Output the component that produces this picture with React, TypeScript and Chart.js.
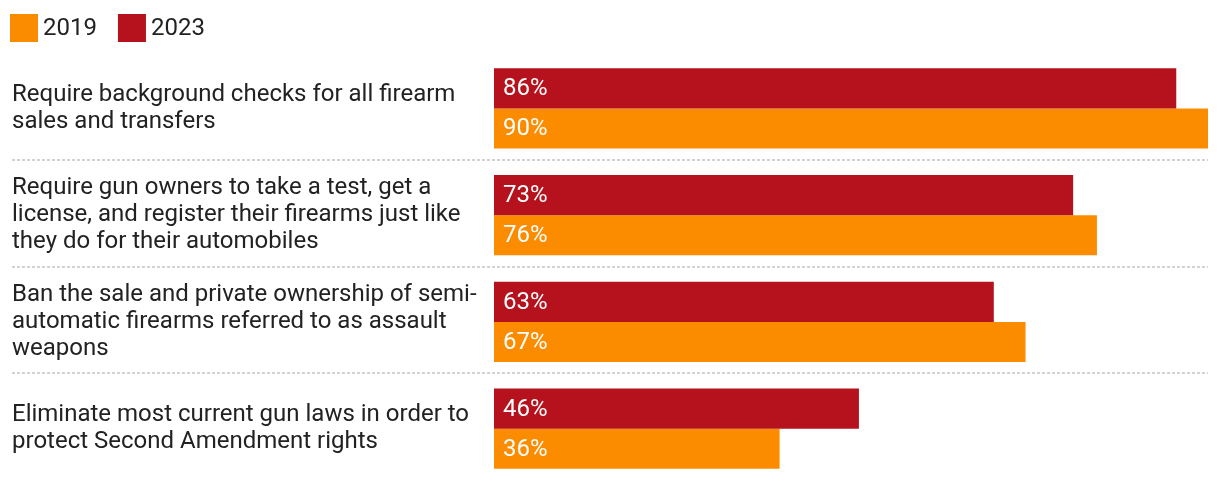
import React, { useEffect, useRef } from "react";
import { Chart, registerables } from "chart.js";

Chart.register(...registerables);

const categories: string[][] = [
  ["Require background checks for all firearm", "sales and transfers"],
  ["Require gun owners to take a test, get a", "license, and register their firearms just like", "they do for their automobiles"],
  ["Ban the sale and private ownership of semi-", "automatic firearms referred to as assault", "weapons"],
  ["Eliminate most current gun laws in order to", "protect Second Amendment rights"],
];
const values2023: number[] = [86, 73, 63, 46];
const values2019: number[] = [90, 76, 67, 36];
const seriesNames: string[] = ["2019", "2023"];
const colors: Record<string, string> = { "2019": "#FB8C00", "2023": "#B5121E" };

const FONT = "Roboto";
const SIZE = 24;

const legendPlugin = {
  id: "customLegend",
  afterDraw(chart: any) {
    const ctx = chart.ctx;
    ctx.save();
    ctx.font = `${SIZE}px ${FONT}`;
    ctx.textBaseline = "middle";
    ctx.textAlign = "left";
    let x = 10;
    const y = 14;
    const box = 28;
    seriesNames.forEach((name) => {
      ctx.fillStyle = colors[name];
      ctx.fillRect(x, y, box, box);
      ctx.fillStyle = "#222222";
      ctx.fillText(name, x + box + 5, y + box / 2 + 1);
      const w = ctx.measureText(name).width;
      x += box + 5 + w + 21;
    });
    ctx.restore();
  },
};

const separatorPlugin = {
  id: "separators",
  beforeDatasetsDraw(chart: any) {
    const ctx = chart.ctx;
    const ys = chart.scales.y;
    const area = chart.chartArea;
    ctx.save();
    ctx.strokeStyle = "#d2d2d2";
    ctx.lineWidth = 2;
    ctx.setLineDash([3, 2]);
    for (let i = 1; i < categories.length; i++) {
      const y = Math.round((ys.getPixelForValue(i - 1) + ys.getPixelForValue(i)) / 2) - 2;
      ctx.beginPath();
      ctx.moveTo(ys.left, y);
      ctx.lineTo(area.right, y);
      ctx.stroke();
    }
    ctx.restore();
  },
};

const barLabelPlugin = {
  id: "barLabels",
  afterDatasetsDraw(chart: any) {
    const ctx = chart.ctx;
    const xs = chart.scales.x;
    ctx.save();
    ctx.font = `${SIZE}px ${FONT}`;
    ctx.fillStyle = "#ffffff";
    ctx.textBaseline = "middle";
    ctx.textAlign = "left";
    chart.data.datasets.forEach((ds: any, di: number) => {
      const meta = chart.getDatasetMeta(di);
      meta.data.forEach((bar: any, i: number) => {
        ctx.fillText(`${ds.data[i]}%`, xs.getPixelForValue(0) + 9, bar.y + 1);
      });
    });
    ctx.restore();
  },
};

export default function App() {
  const ref = useRef<HTMLCanvasElement | null>(null);
  useEffect(() => {
    if (!ref.current) return;
    const chart = new Chart(ref.current, {
      type: "bar",
      data: {
        labels: categories,
        datasets: [
          { label: "2023", data: values2023, backgroundColor: colors["2023"], borderWidth: 0 },
          { label: "2019", data: values2019, backgroundColor: colors["2019"], borderWidth: 0 },
        ],
      },
      options: {
        indexAxis: "y",
        animation: false,
        responsive: true,
        maintainAspectRatio: false,
        layout: { padding: { left: 12, right: 12, top: 55, bottom: 0 } },
        datasets: { bar: { barPercentage: 1, categoryPercentage: 0.75 } },
        plugins: { legend: { display: false }, tooltip: { enabled: false } },
        scales: {
          x: { display: false, min: 0, max: 90 },
          y: {
            grid: { display: false },
            border: { display: false },
            ticks: {
              crossAlign: "far",
              padding: 0,
              color: "#222222",
              font: { family: FONT, size: SIZE, lineHeight: 1.125 },
            },
            afterFit: (scale: any) => {
              scale.width = 482;
              scale.paddingTop = 0;
              scale.paddingBottom = 0;
            },
          },
        },
      },
      plugins: [separatorPlugin, barLabelPlugin, legendPlugin],
    } as any);
    return () => chart.destroy();
  }, []);
  return (
    <div style={{ position: "fixed", left: 0, top: 0, width: 1220, height: 482, background: "#fff" }}>
      <canvas ref={ref} />
    </div>
  );
}
